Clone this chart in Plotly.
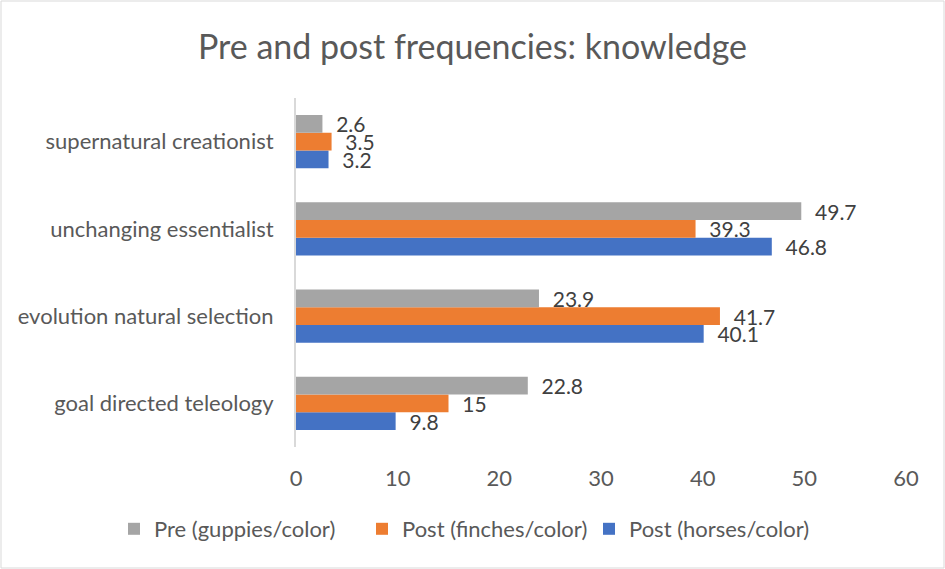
import plotly.graph_objects as go

categories = ["goal directed teleology", "evolution natural selection",
              "unchanging essentialist", "supernatural creationist"]
pre_guppies = [22.8, 23.9, 49.7, 2.6]
post_finches = [15, 41.7, 39.3, 3.5]
post_horses = [9.8, 40.1, 46.8, 3.2]
x_ticks = [0, 10, 20, 30, 40, 50, 60]

W, H = 945, 569
ml, mr, mt, mb = 296, 39, 98, 122
pw, ph = W - ml - mr, H - mt - mb

font_family = "Lato, Open Sans, sans-serif"
txt_color = "#595959"
NB = "\u00a0\u00a0"

fig = go.Figure()
series = [
    ("Post (horses/color)", post_horses, "#4472C4", "legend3", 589),
    ("Post (finches/color)", post_finches, "#ED7D31", "legend2", 362),
    ("Pre (guppies/color)", pre_guppies, "#A5A5A5", "legend", 114),
]
legends = {}
for name, vals, col, leg, lx in series:
    fig.add_trace(go.Bar(
        y=categories, x=vals, name=name, orientation="h",
        marker=dict(color=col, line=dict(width=0)),
        text=[NB + str(v) for v in vals], textposition="outside",
        constraintext="none", legend=leg, showlegend=True,
        textfont=dict(size=21, color="#404040", family=font_family),
        cliponaxis=False,
    ))
    legends[leg] = dict(orientation="h", xref="container", yref="container",
                        x=lx / W, xanchor="left", y=1 - 529 / H, yanchor="middle",
                        font=dict(size=22, color=txt_color), itemwidth=30,
                        bgcolor="rgba(0,0,0,0)")

fig.update_layout(
    width=W, height=H, showlegend=True,
    margin=dict(l=ml, r=mr, t=mt, b=mb, autoexpand=False),
    paper_bgcolor="white", plot_bgcolor="white",
    barmode="group", bargap=0.39, bargroupgap=0,
    font=dict(family=font_family, color=txt_color, size=22),
    title=dict(text="Pre and post frequencies: knowledge", x=0.5, xref="container",
               xanchor="center", y=1 - 47 / H, yanchor="middle",
               font=dict(size=34, color=txt_color, family=font_family)),
    xaxis=dict(range=[0, 60], tickvals=x_ticks, showgrid=False, zeroline=False,
               showline=False, ticks="", ticklabelstandoff=16,
               tickfont=dict(size=22, color=txt_color)),
    yaxis=dict(showgrid=False, zeroline=False, showline=True, linecolor="#D9D9D9",
               linewidth=2, ticks="", ticklabelstandoff=16,
               tickfont=dict(size=22, color=txt_color)),
    shapes=[dict(type="rect", xref="paper", yref="paper",
                 x0=(1 - ml) / pw, x1=(W - 1 - ml) / pw,
                 y0=-(H - 1 - mt - ph) / ph, y1=(mt - 1) / ph + 1,
                 line=dict(color="#D9D9D9", width=1), fillcolor="rgba(0,0,0,0)")],
    **legends,
)

fig.write_html("out.html", config={"displayModeBar": False},
               post_script="document.body.style.margin='0px';")
